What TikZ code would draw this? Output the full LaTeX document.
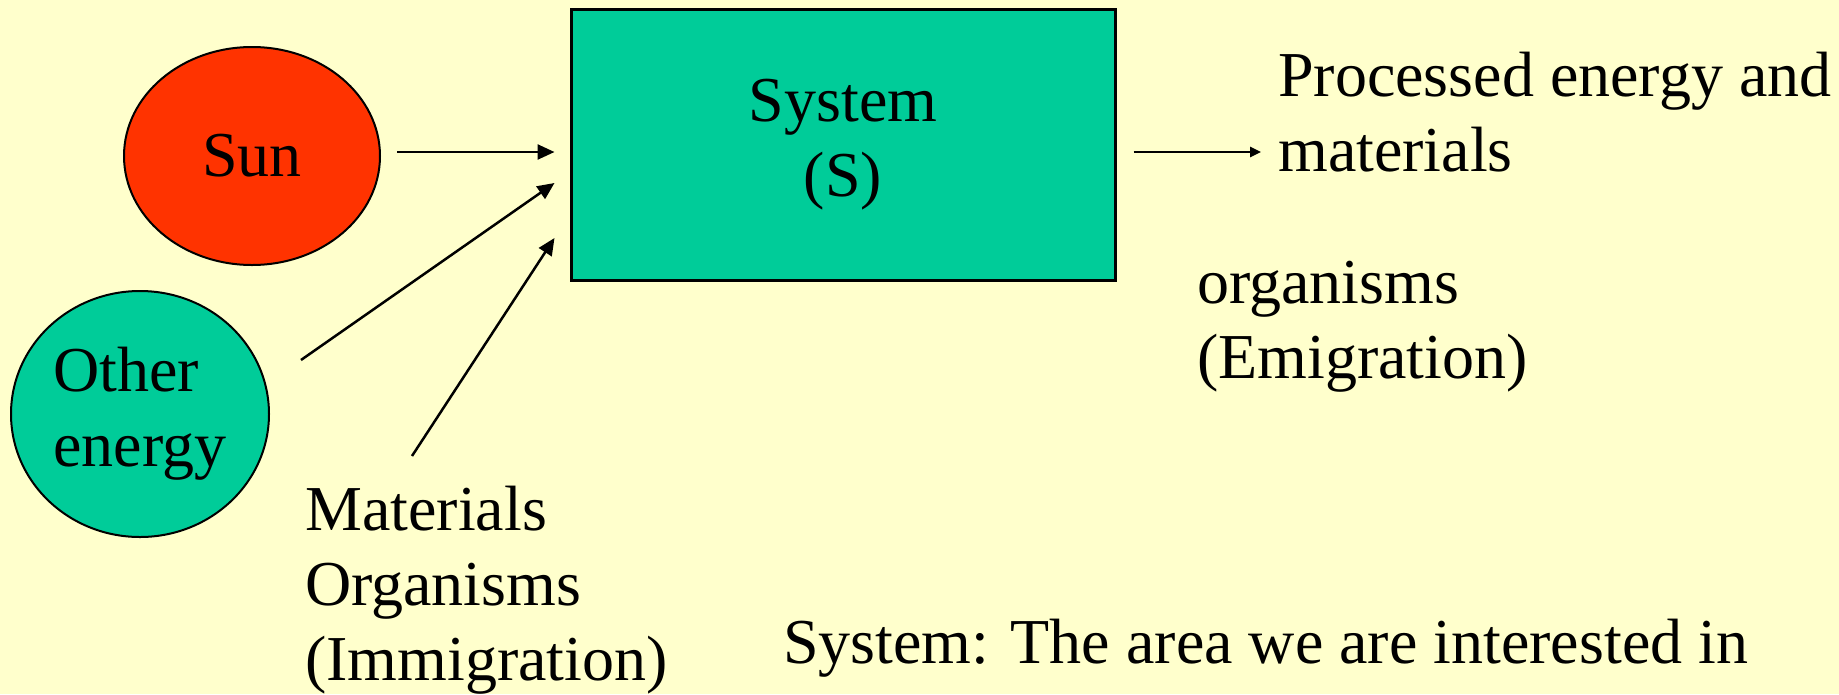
\documentclass[tikz,border=0pt]{standalone}
\usepackage{fontspec}
\setmainfont{Liberation Serif}
\usetikzlibrary{shapes.geometric,arrows.meta}
\definecolor{bgyellow}{HTML}{FFFFCC}
\definecolor{sunred}{HTML}{FF3300}
\definecolor{sysgreen}{HTML}{00CC99}
\tikzset{
  blob/.style={ellipse, draw, line width=2pt, inner sep=0pt},
  flow/.style={line width=2.5pt, -{Triangle[length=17pt,width=15pt]}},
  label/.style={inner sep=0pt, align=left, anchor=base west}
}
\begin{document}
\begin{tikzpicture}[x=1pt,y=-1pt,font=\fontsize{64}{75}\selectfont]
  % background
  \useasboundingbox (0,0) rectangle (1839,694);
  \fill[bgyellow] (0,0) rectangle (1839,694);
  % sources and system
  \node[blob, fill=sunred, minimum width=256pt, minimum height=218pt] (sun) at (252,156) {Sun};
  \node[blob, fill=sysgreen, minimum width=258pt, minimum height=246pt, align=left] (other) at (140,414) {Other\\energy};
  \node[draw, line width=3pt, fill=sysgreen, minimum width=544pt, minimum height=271pt, align=center] (sys) at (843,144.5) {System\\(S)};
  % texts
  \node[label] (mat) at (305,680) {Materials\\Organisms\\(Immigration)};
  \node[label] (out) at (1278,171) {Processed energy and\\materials};
  \node[label] (emi) at (1197,378) {organisms\\(Emigration)};
  \node[label] (def) at (783,663) {System: The area we are interested in};
  % inputs
  \draw[flow] ([xshift=16pt,yshift=4pt]sun.east) -- ([xshift=-15pt,yshift=-7.5pt]sys.west);
  \draw[flow] ([xshift=31pt,yshift=54pt]other.east) -- ([xshift=-15pt,yshift=-38.5pt]sys.west);
  \draw[flow] ([xshift=107pt,yshift=224pt]mat.base west) -- ([xshift=-15pt,yshift=-93.5pt]sys.west);
  % output
  \draw[line width=2.5pt, -{Triangle[length=11pt,width=10pt]}] ([xshift=17pt,yshift=-7.5pt]sys.east) -- ([xshift=-17pt,yshift=19pt]out.base west);
\end{tikzpicture}
\end{document}
